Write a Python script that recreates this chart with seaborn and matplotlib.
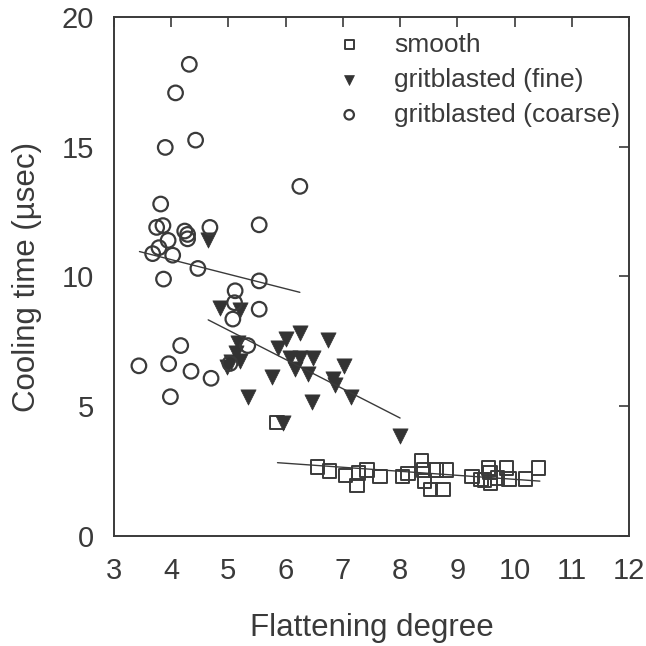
import matplotlib
matplotlib.use("Agg")
import matplotlib.pyplot as plt
import seaborn as sns
import numpy as np

# --- data ---
smooth_x = [5.85, 6.56, 6.77, 7.05, 7.27, 7.25, 7.42, 7.65, 8.04, 8.14, 8.37, 8.41, 8.43,
            8.53, 8.75, 8.63, 8.81, 9.26, 9.41, 9.54, 9.57, 9.58, 9.47, 9.70, 9.86, 9.90,
            10.19, 10.42]
smooth_y = [4.37, 2.67, 2.51, 2.34, 2.43, 1.95, 2.55, 2.30, 2.30, 2.42, 2.92, 2.55, 2.12,
            1.80, 1.80, 2.55, 2.55, 2.30, 2.18, 2.63, 2.45, 2.04, 2.16, 2.24, 2.63, 2.20,
            2.20, 2.63]

fine_x = [4.64, 4.86, 5.20, 5.17, 5.13, 5.04, 5.20, 4.98, 5.34, 6.25, 6.00, 5.87, 6.74,
          6.08, 6.25, 6.48, 6.16, 6.39, 5.77, 7.02, 6.83, 6.87, 7.14, 6.46, 5.95, 8.00]
fine_y = [11.42, 8.80, 8.70, 7.44, 7.05, 6.70, 6.75, 6.50, 5.36, 7.81, 7.60, 7.26, 7.54,
          6.88, 6.86, 6.86, 6.45, 6.25, 6.12, 6.56, 6.06, 5.84, 5.37, 5.15, 4.35, 3.85]

coarse_x = [4.32, 4.08, 3.90, 4.43, 6.25, 3.82, 3.75, 3.86, 4.24, 4.29, 4.29, 4.68, 5.54,
            3.95, 3.79, 3.68, 4.03, 4.47, 3.87, 5.54, 5.12, 5.11, 5.54, 5.08, 5.34, 4.17,
            3.44, 3.96, 4.35, 4.70, 3.99, 5.03]
coarse_y = [18.17, 17.07, 14.97, 15.25, 13.47, 12.79, 11.89, 11.96, 11.75, 11.62, 11.45,
            11.89, 11.99, 11.39, 11.11, 10.88, 10.82, 10.31, 9.90, 9.83, 9.45, 8.99, 8.74,
            8.36, 7.34, 7.34, 6.56, 6.64, 6.35, 6.08, 5.37, 6.65]

# fitted lines (end points)
smooth_fit_x = [5.86, 10.44]
smooth_fit_y = [2.83, 2.12]
fine_fit_x = [4.65, 8.00]
fine_fit_y = [8.33, 4.55]
coarse_fit_x = [3.45, 6.25]
coarse_fit_y = [10.96, 9.39]

labels = ["smooth", "gritblasted (fine)", "gritblasted (coarse)"]
x_ticks = [3, 4, 5, 6, 7, 8, 9, 10, 11, 12]
y_ticks = [0, 5, 10, 15, 20]

# --- style ---
sns.set_theme(style="white")
plt.rcParams['font.family'] = ['Liberation Sans', 'DejaVu Sans']
ink = "#3a3a3a"
plt.rcParams.update({
    "text.color": ink, "axes.labelcolor": ink,
    "xtick.color": ink, "ytick.color": ink, "axes.edgecolor": ink,
})

fig = plt.figure(figsize=(6.46, 6.46), dpi=100)
ax = fig.add_axes([0.176, 0.170, 0.798, 0.804])

sns.scatterplot(x=smooth_x, y=smooth_y, ax=ax, marker="s", s=95,
                facecolor="none", edgecolor=ink, linewidth=1.4, label=labels[0])
sns.scatterplot(x=fine_x, y=fine_y, ax=ax, marker="v", s=120,
                color="#333333", edgecolor="#333333", linewidth=0.5, label=labels[1])
sns.scatterplot(x=coarse_x, y=coarse_y, ax=ax, marker="o", s=110,
                facecolor="none", edgecolor=ink, linewidth=1.6, label=labels[2])

for fx, fy in [(smooth_fit_x, smooth_fit_y), (fine_fit_x, fine_fit_y), (coarse_fit_x, coarse_fit_y)]:
    sns.lineplot(x=fx, y=fy, ax=ax, color=ink, linewidth=1.0, legend=False)

ax.set_xlim(3, 12)
ax.set_ylim(0, 20)
ax.set_xticks(x_ticks)
ax.set_yticks(y_ticks)
ax.tick_params(direction="in", length=7, width=1.2, labelsize=21,
               top=True, right=True)
ax.tick_params(axis="x", pad=15)
ax.tick_params(axis="y", pad=14)
for sp in ax.spines.values():
    sp.set_visible(True)
    sp.set_linewidth(1.4)
    sp.set_color(ink)

ax.set_xlabel("Flattening degree", fontsize=22.5, labelpad=20)
ax.set_ylabel("Cooling time (\u00b5sec)", fontsize=22.5, labelpad=14)

leg = ax.legend(loc="upper right", frameon=False, fontsize=19, markerscale=0.65,
                handlelength=1.0, handletextpad=1.2, labelspacing=0.42,
                borderaxespad=0.0, bbox_to_anchor=(1.003, 0.99))

fig.savefig("out.png", dpi=100)
